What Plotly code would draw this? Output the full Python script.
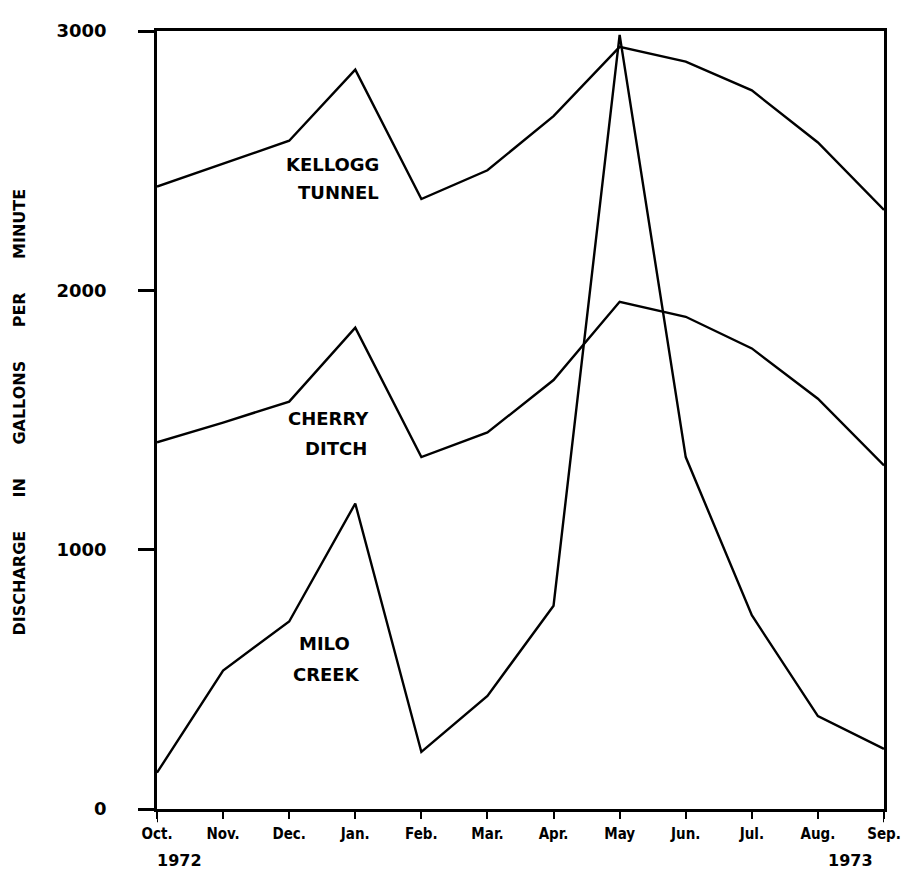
import plotly.graph_objects as go

months = ["Oct.", "Nov.", "Dec.", "Jan.", "Feb.", "Mar.", "Apr.", "May", "Jun.", "Jul.", "Aug.", "Sep."]
kellogg_tunnel = [2400, 2490, 2577, 2851, 2352, 2463, 2672, 2939, 2882, 2771, 2570, 2310]
cherry_ditch = [1414, 1490, 1571, 1856, 1357, 1452, 1654, 1956, 1898, 1776, 1582, 1325]
milo_creek = [140, 534, 723, 1178, 220, 436, 784, 2985, 1357, 747, 358, 232]
y_ticks = [0, 1000, 2000, 3000]
y_tick_labels = ["0", "1000", "2000", "3000"]
years = ["1972", "1973"]
series_labels = [("KELLOGG", "TUNNEL"), ("CHERRY", "DITCH"), ("MILO", "CREEK")]
y_title_words = ["DISCHARGE", "IN", "GALLONS", "PER", "MINUTE"]

x_idx = list(range(len(months)))
LBL = dict(family="DejaVu Sans", size=18, color="black", weight="bold")
NUM = dict(family="DejaVu Sans", size=18, color="black", weight="bold")
YR = dict(family="DejaVu Sans", size=16, color="black", weight="bold")

fig = go.Figure()
for vals in (kellogg_tunnel, cherry_ditch, milo_creek):
    fig.add_trace(go.Scatter(x=x_idx, y=vals, mode="lines",
                             line=dict(color="black", width=2.4),
                             showlegend=False, hoverinfo="skip"))

# series labels (placed in data space)
label_pos = [((2.66, 2485), (2.75, 2379)), ((2.59, 1506), (2.71, 1391)), ((2.54, 637), (2.56, 518))]
annotations = []
for (l1, l2), (p1, p2) in zip(series_labels, label_pos):
    annotations.append(dict(x=p1[0], y=p1[1], xref="x", yref="y", text=l1, showarrow=False,
                            xanchor="center", yanchor="middle", font=LBL))
    annotations.append(dict(x=p2[0], y=p2[1], xref="x", yref="y", text=l2, showarrow=False,
                            xanchor="center", yanchor="middle", font=LBL))

sp = "\u00a0" * 6
annotations.append(dict(x=-0.1895, y=0.51, xref="paper", yref="paper", text=sp.join(y_title_words),
                        textangle=-90, showarrow=False, xanchor="center", yanchor="middle",
                        font=dict(family="DejaVu Sans", size=16, color="black", weight="bold")))
annotations.append(dict(x=0.0303, y=-0.066, xref="paper", yref="paper", text=years[0], showarrow=False,
                        xanchor="center", yanchor="middle", font=YR))
annotations.append(dict(x=0.9546, y=-0.066, xref="paper", yref="paper", text=years[1], showarrow=False,
                        xanchor="center", yanchor="middle", font=YR))

shapes = []
for xi in (x_idx[0], x_idx[-1]):
    shapes.append(dict(type="line", xref="x", yref="paper", x0=xi, x1=xi, y0=0, y1=-0.017,
                       line=dict(color="black", width=2)))

fig.update_layout(
    width=911, height=873,
    margin=dict(l=149, r=35, t=12, b=72),
    paper_bgcolor="white", plot_bgcolor="white",
    annotations=annotations, shapes=shapes,
    xaxis=dict(range=[0, len(months) - 1], tickmode="array", tickvals=x_idx, ticktext=months,
               ticks="outside", ticklen=7, tickwidth=2, tickcolor="black",
               showline=True, linecolor="black", linewidth=3, mirror=True,
               showgrid=False, zeroline=False, ticklabelstandoff=2,
               tickfont=dict(family="DejaVu Sans Condensed, Liberation Sans, sans-serif",
                             size=15, color="black", weight="bold")),
    yaxis=dict(range=[0, 3000], tickmode="array", tickvals=y_ticks, ticktext=y_tick_labels,
               ticks="outside", ticklen=16, tickwidth=2.5, tickcolor="black",
               showline=True, linecolor="black", linewidth=2.5, mirror=True,
               showgrid=False, zeroline=False, ticklabelstandoff=28,
               tickfont=NUM),
)

fig.write_html("out.html")
